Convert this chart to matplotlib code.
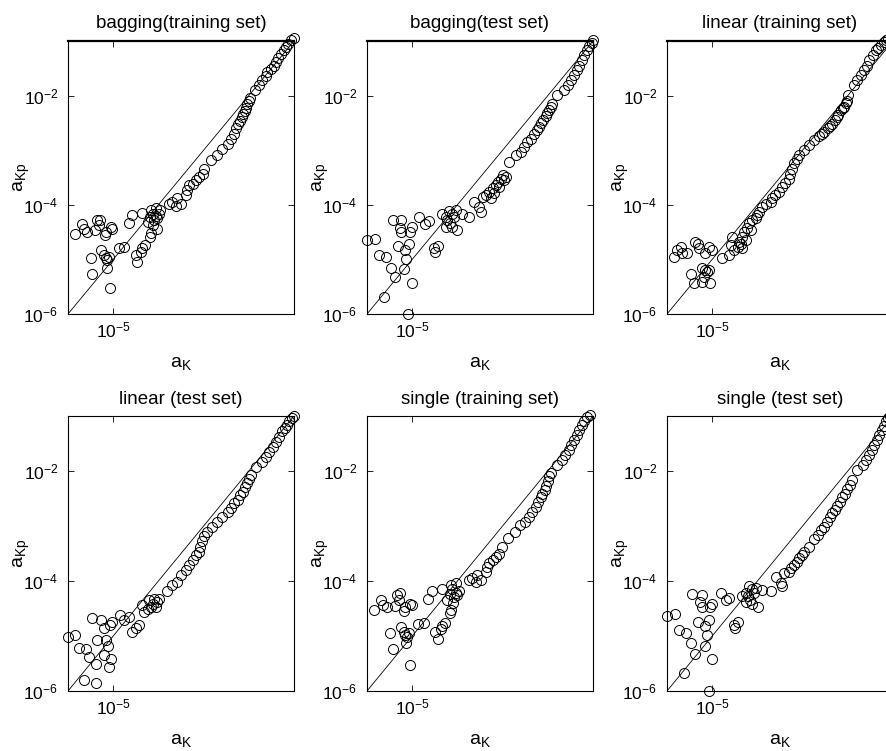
import numpy as np
import matplotlib
matplotlib.use("Agg")
import matplotlib.pyplot as plt

plt.rcParams['font.family'] = ['Liberation Sans', 'DejaVu Sans']
plt.rcParams['mathtext.fontset'] = 'custom'
plt.rcParams['mathtext.rm'] = 'Liberation Sans'
plt.rcParams['mathtext.it'] = 'Liberation Sans:italic'
plt.rcParams['axes.unicode_minus'] = False

# ---- data: log10(a_K) and log10(a_Kp) ----
bag_train_logk = [-5.85,-5.70,-5.65,-5.58,-5.41,-5.36,-5.30,-5.32,-5.19,-5.16,-5.04,-5.02,
    -5.50,-5.47,-5.26,-5.21,-5.17,-5.13,-5.10,-5.13,-5.06,-4.87,-4.76,-4.65,-4.58,-4.36,
    -4.50,-4.47,-4.39,-4.36,-4.30,-4.19,-4.17,-4.12,-4.10,-4.06,-4.02,-4.13,-4.17,-4.06,-3.99,-3.97,-4.24,-4.19,-4.04,
    -3.76,-3.69,-3.61,-3.50,-3.58,-3.39,-3.36,-3.32,-3.24,-3.17,-3.10,-3.02,
    -2.99,-2.84,-2.70,-2.59,-2.47,-2.40,-2.33,-2.29,-2.24,-2.19,-2.16,-2.12,-2.09,-2.06,-2.03,-2.00,-1.97,-1.87,-1.77,-1.70,
    -1.62,-1.59,-1.51,-1.45,-1.40,-1.35,-1.29,-1.23,-1.18,-1.13,-1.07,-1.01]
bag_train_logkp = [-4.54,-4.36,-4.45,-4.49,-4.46,-4.27,-4.28,-4.37,-4.56,-4.49,-4.41,-4.45,
    -4.98,-5.26,-4.83,-4.92,-4.98,-5.02,-4.96,-5.16,-5.53,-4.80,-4.78,-4.34,-4.19,-4.15,
    -4.92,-5.04,-4.86,-4.80,-4.74,-4.59,-4.51,-4.37,-4.28,-4.21,-4.25,-4.16,-4.09,-4.05,-4.16,-4.09,-4.31,-4.22,-4.45,
    -3.98,-3.95,-4.02,-3.98,-3.88,-3.82,-3.73,-3.64,-3.61,-3.55,-3.49,-3.43,
    -3.34,-3.18,-3.08,-2.97,-2.88,-2.79,-2.70,-2.60,-2.52,-2.46,-2.40,-2.34,-2.28,-2.22,-2.16,-2.10,-2.04,-1.90,-1.81,-1.72,
    -1.65,-1.57,-1.51,-1.45,-1.38,-1.32,-1.24,-1.17,-1.11,-1.05,-0.99,-0.94]

bag_test_logk = [-6.00,-5.83,-5.74,-5.58,-5.48,-5.39,-5.63,-5.19,-5.01,-5.09,
    -5.43,-5.24,-5.28,-5.24,-5.00,-5.04,-4.84,-4.72,-4.63,
    -5.31,-5.07,-5.15,-5.13,-4.52,-4.44,-4.50,
    -4.33,-4.26,-4.22,-4.17,-4.13,-4.07,-4.19,-4.04,-4.00,-4.11,-4.26,-3.89,-3.74,
    -3.63,-3.52,-3.48,-3.44,-3.37,-3.30,-3.22,-3.15,-3.11,-3.04,-3.00,
    -3.19,-3.07,-2.96,-2.93,-3.26,
    -2.86,-2.71,-2.60,-2.53,-2.45,-2.38,-2.30,-2.24,-2.19,-2.14,-2.10,-2.05,-2.01,-1.97,-1.93,-1.90,-1.79,-1.64,-1.56,-1.49,
    -1.41,-1.36,-1.30,-1.25,-1.19,-1.13,-1.08,-1.03,-0.99]
bag_test_logkp = [-4.65,-4.63,-4.92,-4.96,-5.15,-5.33,-5.68,-5.18,-5.43,-6.00,
    -4.28,-4.28,-4.43,-4.49,-4.41,-4.49,-4.22,-4.35,-4.29,
    -4.76,-4.71,-4.83,-5.00,-4.80,-4.76,-4.86,
    -4.16,-4.22,-4.28,-4.34,-4.16,-4.22,-4.12,-4.10,-4.46,-4.40,-4.40,-4.16,-4.22,
    -3.95,-4.04,-4.13,-3.85,-3.82,-3.76,-3.70,-3.64,-3.58,-3.52,-3.46,
    -3.79,-3.67,-3.55,-3.49,-3.88,
    -3.21,-3.09,-3.03,-2.94,-2.85,-2.79,-2.70,-2.63,-2.57,-2.50,-2.44,-2.38,-2.32,-2.26,-2.20,-2.15,-1.99,-1.90,-1.81,-1.72,
    -1.63,-1.54,-1.45,-1.35,-1.26,-1.17,-1.10,-1.04,-0.98]

lin_train_logk = [-5.85,-5.78,-5.70,-5.67,-5.56,-5.37,-5.31,-5.30,-5.16,-5.07,-5.00,
    -5.48,-5.41,-5.22,-5.15,-5.11,-5.07,-5.19,-5.04,-5.22,
    -4.78,-4.63,-4.59,-4.56,-4.52,-4.44,-4.41,-4.33,-4.30,-4.22,-4.19,-4.11,-4.04,-4.00,-3.96,-3.89,-3.81,-3.70,-4.15,-4.26,-4.37,-4.33,
    -3.67,-3.60,-3.53,-3.45,-3.38,-3.30,-3.27,-3.23,-3.18,-3.13,-3.08,-2.97,-2.86,-2.75,-2.64,-2.53,-2.44,-2.36,-2.29,-2.21,
    -2.14,-2.08,-2.02,-1.99,-1.86,-1.79,-1.71,-1.65,-1.58,-1.52,-1.45,-1.38,-1.33,-1.27,-1.21,-1.16,-1.10,-1.05,
    -2.58,-2.40,-2.25,-2.11,-2.05]
lin_train_logkp = [-4.95,-4.83,-4.77,-4.88,-4.89,-4.68,-4.71,-4.80,-4.88,-4.77,-4.82,
    -5.26,-5.44,-5.16,-5.20,-5.23,-5.20,-5.32,-5.44,-5.41,
    -4.98,-4.92,-4.74,-4.59,-4.83,-4.77,-4.68,-4.59,-4.49,-4.43,-4.34,-4.28,-4.25,-4.19,-4.13,-4.04,-3.98,-3.95,-4.46,-4.65,-4.71,-4.80,
    -3.88,-3.82,-3.76,-3.67,-3.60,-3.52,-3.43,-3.34,-3.24,-3.17,-3.09,-3.00,-2.91,-2.82,-2.74,-2.66,-2.60,-2.52,-2.44,-2.36,
    -2.27,-2.20,-2.09,-1.99,-1.81,-1.72,-1.63,-1.54,-1.45,-1.35,-1.26,-1.17,-1.12,-1.07,-1.02,-0.99,-0.97,-0.96,
    -2.70,-2.56,-2.40,-2.23,-2.14]

lin_test_logk = [-6.00,-5.84,-5.75,-5.60,-5.54,-5.39,-5.65,-5.39,
    -5.47,-5.26,-5.21,-5.36,-5.17,-5.11,-5.21,-5.04,-5.10,-5.02,-5.06,
    -4.86,-4.76,-4.65,-4.58,-4.50,-4.44,
    -4.36,-4.32,-4.24,-4.21,-4.13,-4.10,-4.02,-4.17,-4.06,-3.99,
    -3.80,-3.69,-3.58,-3.50,-3.39,-3.32,-3.24,-3.17,-3.10,
    -3.07,-3.03,-2.99,-2.92,-2.81,-2.70,-2.59,-2.47,-2.40,-2.33,-2.25,-2.19,-2.13,-2.09,-2.04,-1.99,-1.96,-1.84,-1.70,-1.62,
    -1.55,-1.47,-1.40,-1.33,-1.27,-1.21,-1.16,-1.10,-1.05,-1.01]
lin_test_logkp = [-5.02,-4.98,-5.22,-5.24,-5.38,-5.50,-5.80,-5.86,
    -4.68,-4.71,-4.86,-5.07,-5.07,-5.19,-5.35,-5.41,-5.57,-4.74,-4.80,
    -4.62,-4.71,-4.65,-4.92,-4.86,-4.80,
    -4.44,-4.56,-4.50,-4.35,-4.41,-4.32,-4.38,-4.47,-4.47,-4.32,
    -4.19,-4.07,-4.01,-3.89,-3.80,-3.71,-3.62,-3.53,-3.47,
    -3.38,-3.28,-3.19,-3.10,-3.01,-2.92,-2.83,-2.74,-2.68,-2.59,-2.53,-2.44,-2.38,-2.30,-2.22,-2.15,-2.07,-1.92,-1.83,-1.74,
    -1.65,-1.56,-1.47,-1.38,-1.28,-1.22,-1.16,-1.10,-1.04,-1.00]

single_train_logk = [-5.85,-5.70,-5.65,-5.56,-5.39,-5.33,-5.28,-5.30,-5.19,-5.15,-5.04,-5.00,
    -5.50,-5.43,-5.24,-5.19,-5.15,-5.11,-5.07,-5.13,-5.04,-4.87,-4.74,-4.65,-4.56,-4.33,
    -4.50,-4.44,-4.37,-4.33,-4.27,-4.17,-4.15,-4.10,-4.07,-4.04,-4.00,-4.13,-4.15,-4.04,-3.96,-4.22,-4.17,
    -3.74,-3.67,-3.59,-3.48,-3.56,-3.37,-3.34,-3.30,-3.22,-3.15,-3.07,
    -3.01,-2.87,-2.72,-2.61,-2.50,-2.42,-2.35,-2.27,-2.22,-2.16,-2.12,-2.07,-2.03,-2.00,-1.97,-1.93,-1.79,-1.68,-1.61,-1.53,
    -1.48,-1.42,-1.36,-1.30,-1.24,-1.19,-1.13,-1.07]
single_train_logkp = [-4.53,-4.35,-4.44,-4.48,-4.45,-4.25,-4.22,-4.35,-4.55,-4.48,-4.41,-4.44,
    -4.95,-5.24,-4.84,-4.92,-4.98,-5.02,-4.95,-5.13,-5.53,-4.78,-4.76,-4.32,-4.18,-4.15,
    -4.92,-5.06,-4.88,-4.82,-4.76,-4.59,-4.52,-4.40,-4.29,-4.21,-4.25,-4.15,-4.07,-4.04,-4.18,-4.35,-4.24,
    -3.98,-3.95,-4.02,-3.98,-3.89,-3.83,-3.74,-3.67,-3.62,-3.56,-3.50,
    -3.38,-3.22,-3.10,-2.99,-2.92,-2.83,-2.74,-2.65,-2.56,-2.48,-2.41,-2.35,-2.27,-2.19,-2.10,-2.04,-1.89,-1.80,-1.71,-1.62,
    -1.53,-1.44,-1.35,-1.25,-1.16,-1.10,-1.02,-0.98]

single_test_logk = [-6.00,-5.83,-5.74,-5.58,-5.48,-5.39,-5.63,-5.16,-5.01,-5.07,
    -5.44,-5.22,-5.28,-5.22,-5.00,-5.04,-4.81,-4.70,-4.63,
    -5.31,-5.07,-5.15,-5.11,-4.52,-4.43,-4.50,
    -4.33,-4.26,-4.20,-4.17,-4.13,-4.07,-4.19,-4.04,-3.98,-4.11,-4.26,-3.89,-3.70,
    -3.59,-3.48,-3.46,-3.41,-3.31,-3.26,-3.19,-3.13,-3.07,-3.01,-2.96,
    -2.86,-2.75,-2.67,-2.60,-2.53,-2.45,-2.39,-2.34,-2.29,-2.23,-2.17,-2.12,-2.07,-2.01,-1.96,-1.90,-1.79,-1.67,-1.60,-1.53,
    -1.47,-1.41,-1.36,-1.30,-1.25,-1.21,-1.16,-1.11,-1.06,-1.02]
single_test_logkp = [-4.64,-4.60,-4.89,-4.94,-5.13,-5.33,-5.68,-5.19,-5.41,-6.00,
    -4.24,-4.25,-4.39,-4.48,-4.41,-4.48,-4.21,-4.35,-4.30,
    -4.74,-4.70,-4.82,-4.98,-4.80,-4.74,-4.86,
    -4.28,-4.21,-4.28,-4.35,-4.15,-4.22,-4.10,-4.12,-4.47,-4.41,-4.38,-4.16,-4.19,
    -3.92,-4.04,-4.09,-3.86,-3.83,-3.77,-3.71,-3.65,-3.59,-3.53,-3.48,
    -3.38,-3.24,-3.16,-3.08,-3.01,-2.92,-2.83,-2.77,-2.71,-2.64,-2.56,-2.48,-2.41,-2.32,-2.25,-2.16,-1.98,-1.89,-1.80,-1.71,
    -1.62,-1.53,-1.44,-1.35,-1.25,-1.18,-1.10,-1.04,-1.00,-0.98]

titles = ["bagging(training set)", "bagging(test set)", "linear (training set)",
          "linear (test set)", "single (training set)", "single (test set)"]
diag = [1e-6, 1e-1]
x_ticks = [1e-5]
y_ticks = [1e-6, 1e-4, 1e-2]

panels = [(bag_train_logk, bag_train_logkp), (bag_test_logk, bag_test_logkp),
          (lin_train_logk, lin_train_logkp), (lin_test_logk, lin_test_logkp),
          (single_train_logk, single_train_logkp), (single_test_logk, single_test_logkp)]

W, H = 886, 751
fig = plt.figure(figsize=(W / 100, H / 100), dpi=100)
lefts = [68, 367, 667]
rows = [(41, 314), (416, 691)]
axw = 226

for i, ((lk, lkp), title) in enumerate(zip(panels, titles)):
    r, c = divmod(i, 3)
    top, bot = rows[r]
    ax = fig.add_axes([lefts[c] / W, 1 - bot / H, axw / W, (bot - top) / H])
    n = min(len(lk), len(lkp))
    xk = 10.0 ** np.array(lk[:n])
    yk = 10.0 ** np.array(lkp[:n])
    ax.plot(diag, diag, color='black', lw=0.6)
    ax.plot(xk, yk, linestyle='none', marker='o', ms=7.2, mfc='none', mec='black',
            mew=0.7, clip_on=False)
    ax.set_xscale('log')
    ax.set_yscale('log')
    ax.set_xlim(1e-6, 1e-1)
    ax.set_ylim(1e-6, 1e-1)
    ax.set_xticks(x_ticks)
    ax.set_yticks(y_ticks)
    ax.minorticks_off()
    ax.tick_params(direction='in', length=4, width=0.6, top=True, right=True,
                   labelsize=12.5, pad=7)
    ax.tick_params(axis='x', pad=5)
    for sp in ax.spines.values():
        sp.set_linewidth(0.8)
    if r == 0:
        ax.spines['top'].set_linewidth(1.6)
    ax.set_title(title, fontsize=13.5, pad=9)
    ax.set_xlabel(r'$\mathregular{a_K}$', fontsize=14)
    ax.set_ylabel(r'$\mathregular{a_{Kp}}$', fontsize=14)
    ax.yaxis.set_label_coords(-0.16, 0.5)
    ax.xaxis.set_label_coords(0.5, -0.15)

fig.savefig('out.png', dpi=100)
